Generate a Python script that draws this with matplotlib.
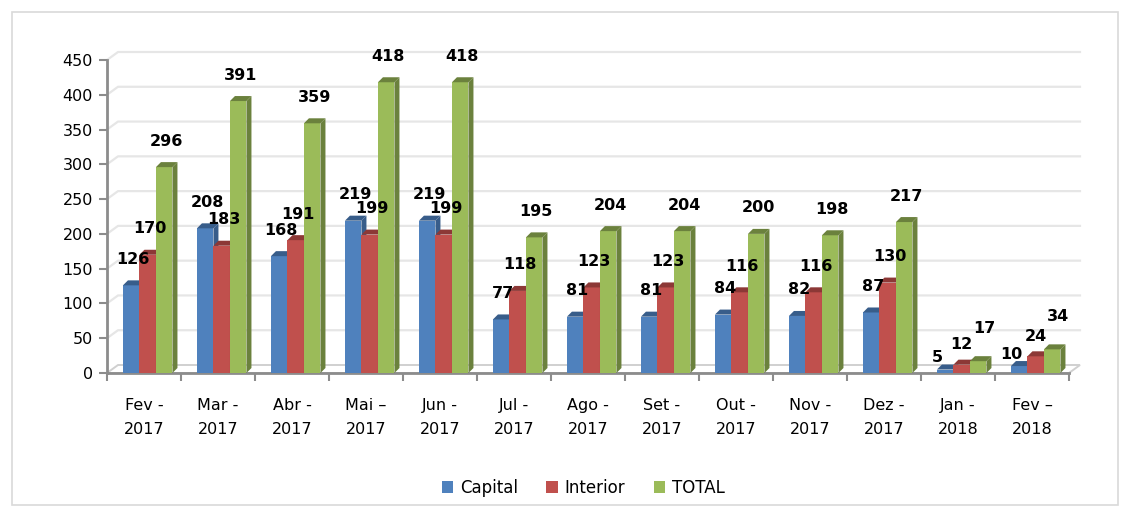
import numpy as np
import matplotlib.pyplot as plt
from matplotlib.patches import Polygon, Rectangle

# Data
months = ['Fev -\n2017', 'Mar -\n2017', 'Abr -\n2017', 'Mai \u2013\n2017', 'Jun -\n2017',
          'Jul -\n2017', 'Ago -\n2017', 'Set -\n2017', 'Out -\n2017', 'Nov -\n2017',
          'Dez -\n2017', 'Jan -\n2018', 'Fev \u2013\n2018']
capital = [126, 208, 168, 219, 219, 77, 81, 81, 84, 82, 87, 5, 10]
interior = [170, 183, 191, 199, 199, 118, 123, 123, 116, 116, 130, 12, 24]
total = [296, 391, 359, 418, 418, 195, 204, 204, 200, 198, 217, 17, 34]

series = [('Capital', capital, '#4f81bd', '#385d8a'),
          ('Interior', interior, '#c0504d', '#8c3836'),
          ('TOTAL', total, '#9bbb59', '#6b813d')]

fig = plt.figure(figsize=(11.3, 5.13), dpi=100)
fig.patches.append(Rectangle((12 / 1130, 8 / 513), 1106 / 1130, 493 / 513,
                             transform=fig.transFigure, fill=False,
                             edgecolor='#d9d9d9', lw=1.2))
ax = fig.add_axes([107 / 1130, 140 / 513, 962 / 1130, 313 / 513])
ax.set_xlim(-0.5, 12.5)
ax.set_ylim(0, 450)

# pixel -> data helpers for the fake 3D depth
px_x = 13.0 / 962
px_y = 450.0 / 313
wall_dx, wall_dy = 11 * px_x, 8 * px_y
bar_dx, bar_dy = 5 * px_x, 5 * px_y

# back wall gridlines
for v in range(50, 451, 50):
    ax.plot([-0.5, -0.5 + wall_dx, 12.5 + wall_dx], [v, v + wall_dy, v + wall_dy],
            color='#e6e6e6', lw=1.6, zorder=0, clip_on=False)
# floor
ax.add_patch(Polygon([(-0.5, 0), (-0.5 + wall_dx, wall_dy), (12.5 + wall_dx, wall_dy), (12.5, 0)],
                     closed=True, facecolor='white', edgecolor='#d0d0d0', lw=1.4,
                     zorder=0.5, clip_on=False))

# label offsets (pixels); small bars get staggered labels like the original
label_off = [(2, 26), (2, 26), (2, 26)]
small_off = [(-8, 12), (0, 20), (6, 33)]

x = np.arange(len(months))
w = 0.223
offsets = [-w, 0, w]
for k, ((name, vals, col, dark), off) in enumerate(zip(series, offsets)):
    xs = x + 0.05 + off
    ax.bar(xs, vals, width=w, color=col, label=name, zorder=3, linewidth=0)
    for xi, v in zip(xs, vals):
        l, r = xi - w / 2, xi + w / 2
        ax.add_patch(Polygon([(r, 0), (r + bar_dx, bar_dy), (r + bar_dx, v + bar_dy), (r, v)],
                             closed=True, facecolor=dark, lw=0, zorder=3))
        ax.add_patch(Polygon([(l, v), (l + bar_dx, v + bar_dy), (r + bar_dx, v + bar_dy), (r, v)],
                             closed=True, facecolor=dark, lw=0, zorder=3))
        o = small_off[k] if v < 50 else label_off[k]
        ax.annotate(str(v), (xi, v), xytext=o, textcoords='offset pixels',
                    ha='center', va='center', fontsize=11.5, fontweight='bold',
                    color='black', zorder=5)

for s in ['top', 'right']:
    ax.spines[s].set_visible(False)
for s in ['left', 'bottom']:
    ax.spines[s].set_color('#8c8c8c')
    ax.spines[s].set_linewidth(2)

ax.set_yticks(range(0, 451, 50))
ax.tick_params(axis='y', length=6, width=1.5, color='#8c8c8c', labelsize=11.5, pad=4)
ax.set_xticks(np.arange(-0.5, 13, 1))
ax.set_xticklabels([])
ax.tick_params(axis='x', length=6, width=1.5, color='#8c8c8c')
for xi, lab in zip(x, months):
    ax.text(xi, -36, lab, ha='center', va='top', fontsize=11.5, linespacing=1.75,
            clip_on=False)

ax.legend(loc='upper center', bbox_to_anchor=(0.5 - 0.005, -0.29), ncol=3, frameon=False,
          fontsize=12, handlelength=0.7, handleheight=0.7, handletextpad=0.4,
          columnspacing=1.7)

plt.savefig('out.png', dpi=100)
